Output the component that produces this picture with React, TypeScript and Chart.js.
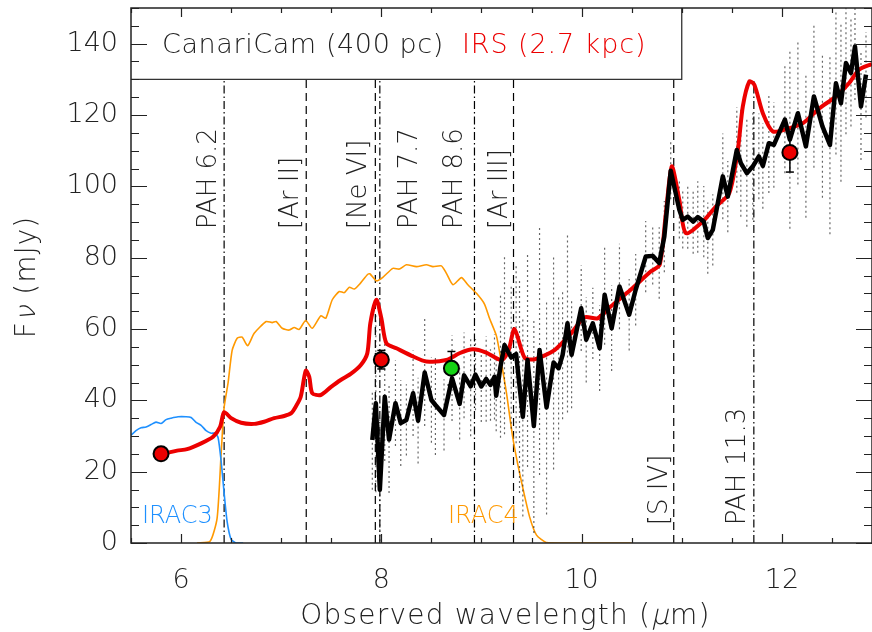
import { useEffect, useRef } from "react";
import { Chart, registerables } from "chart.js";

Chart.register(...registerables);

// ---------- axes ----------
const X_MIN = 5.5;
const X_MAX = 12.9;
const Y_MIN = 0;
const Y_MAX = 150;
const X_TICKS = [6, 8, 10, 12];
const Y_TICKS = [0, 20, 40, 60, 80, 100, 120, 140];
const X_MINOR_STEP = 0.5;
const Y_MINOR_STEP = 5;

// ---------- IRAC3 filter (blue) ----------
const IRAC3_WL = [5.5, 5.55, 5.6, 5.65, 5.7, 5.75, 5.8, 5.85, 5.9, 5.97, 6.05, 6.1, 6.15, 6.2, 6.25, 6.3, 6.34, 6.37, 6.4, 6.43, 6.46, 6.5, 6.55, 6.62];
const IRAC3_T = [30.2, 31.5, 32.3, 32.5, 33.2, 33.9, 33.5, 34.6, 35.0, 35.4, 35.4, 35.2, 33.8, 33.0, 31.5, 30.8, 30.8, 29.5, 23, 14, 6, 1, 0, 0];

// ---------- IRAC4 filter (orange) ----------
const IRAC4_WL = [6.16, 6.29, 6.36, 6.4, 6.43, 6.47, 6.51, 6.56, 6.61, 6.665, 6.73, 6.85, 6.91, 6.95, 7.01, 7.08, 7.13, 7.18, 7.245, 7.31, 7.395, 7.445, 7.51, 7.58, 7.63, 7.68, 7.73, 7.79, 7.86, 7.885, 7.95, 8.015, 8.115, 8.18, 8.25, 8.35, 8.45, 8.515, 8.6, 8.65, 8.715, 8.8, 8.864, 8.95, 9.03, 9.08, 9.15, 9.2, 9.25, 9.31, 9.36, 9.41, 9.48, 9.55, 9.65, 9.8, 10.5];
const IRAC4_T = [0, 0.5, 7, 25, 38, 45, 54, 57.4, 57.7, 55.3, 58.8, 62.1, 61.8, 62.1, 60.2, 59.7, 60.4, 59.9, 62.4, 60.2, 63.7, 63.0, 68.2, 70.5, 70.2, 71.7, 71.2, 72.8, 75.2, 75.5, 73.5, 74.5, 77.0, 76.8, 78.0, 77.5, 78.0, 77.5, 77.7, 75.6, 72.4, 74.4, 72.4, 70.0, 67.0, 63.0, 58.0, 50.4, 42.0, 30.0, 22.4, 15.8, 7.4, 2.2, 0.1, 0, 0];

// ---------- IRS spectrum (red) ----------
const IRS_WL = [5.79, 5.85, 5.96, 6.06, 6.19, 6.32, 6.39, 6.43, 6.5, 6.6, 6.73, 6.83, 6.93, 7.03, 7.1, 7.145, 7.195, 7.245, 7.28, 7.31, 7.395, 7.495, 7.594, 7.694, 7.795, 7.86, 7.89, 7.95, 8.0, 8.05, 8.15, 8.317, 8.45, 8.65, 8.78, 8.914, 9.047, 9.2, 9.27, 9.33, 9.43, 9.53, 9.73, 9.896, 10.03, 10.16, 10.29, 10.49, 10.69, 10.78, 10.84, 10.9, 10.976, 11.04, 11.21, 11.34, 11.475, 11.56, 11.61, 11.675, 11.725, 11.81, 11.91, 12.076, 12.21, 12.376, 12.54, 12.67, 12.77, 12.9];
const IRS_F = [25.0, 25.2, 25.9, 26.3, 27.8, 29.8, 32.6, 36.7, 35.0, 33.7, 33.4, 34.0, 35.0, 35.6, 36.4, 38.2, 41.0, 48.3, 46.6, 42.0, 41.5, 43.7, 45.7, 47.4, 49.9, 53.2, 61.6, 68.2, 63.0, 56.0, 54.6, 52.3, 50.9, 51.3, 53.2, 54.3, 53.4, 51.3, 54.0, 60.0, 52.0, 51.5, 54.1, 58.8, 63.3, 63.0, 66.3, 71.0, 76.1, 78.0, 92.0, 105.6, 96.2, 86.9, 90.1, 94.3, 98.1, 110.2, 122.4, 129.4, 128.5, 120.5, 115.4, 116.3, 117.7, 121.9, 125.2, 128.9, 132.7, 134.3];

// ---------- CanariCam spectrum (black) ----------
const CC_WL = [7.91, 7.945, 7.985, 8.034, 8.077, 8.141, 8.194, 8.25, 8.317, 8.367, 8.433, 8.5, 8.54, 8.626, 8.706, 8.782, 8.826, 8.892, 8.94, 8.998, 9.047, 9.09, 9.13, 9.147, 9.19, 9.23, 9.297, 9.346, 9.38, 9.413, 9.46, 9.523, 9.58, 9.65, 9.72, 9.77, 9.81, 9.859, 9.9, 9.996, 10.046, 10.112, 10.18, 10.23, 10.3, 10.378, 10.475, 10.54, 10.64, 10.71, 10.775, 10.826, 10.89, 10.976, 11.01, 11.06, 11.114, 11.16, 11.22, 11.26, 11.31, 11.41, 11.46, 11.55, 11.59, 11.65, 11.71, 11.77, 11.81, 11.87, 11.92, 12.03, 12.08, 12.16, 12.24, 12.32, 12.405, 12.48, 12.54, 12.59, 12.64, 12.69, 12.73, 12.79, 12.84];
const CC_F = [28.9, 39.2, 14.9, 41.0, 29.0, 39.2, 33.6, 34.5, 42.0, 34.3, 47.8, 40.1, 38.7, 35.9, 46.2, 39.0, 47.0, 43.9, 47.2, 43.9, 46.0, 44.3, 46.6, 41.3, 49.5, 55.5, 52.0, 53.0, 44.0, 35.4, 51.3, 32.8, 54.1, 38.0, 50.6, 49.0, 52.7, 61.6, 52.8, 65.8, 57.0, 61.6, 54.6, 69.6, 60.2, 71.9, 64.0, 71.0, 80.3, 80.5, 78.5, 85.9, 104.4, 93.4, 90.6, 91.5, 90.1, 91.4, 90.1, 85.5, 87.8, 102.8, 97.1, 110.2, 106.5, 103.7, 105.6, 108.4, 105.7, 112.1, 111.6, 118.7, 113.1, 120.5, 111.2, 125.2, 116.8, 111.6, 128.9, 123.3, 134.6, 131.8, 139.2, 122.4, 131.3];
const CC_ERR = [14, 25, 20, 18, 15, 12, 12, 10, 12, 12, 15, 12, 14, 10, 12, 10, 12, 14, 10, 10, 12, 10, 12, 10, 20, 25, 20, 25, 30, 28, 30, 30, 35, 30, 30, 20, 18, 25, 15, 12, 12, 10, 12, 14, 12, 12, 10, 10, 10, 8, 10, 10, 8, 8, 8, 9, 9, 10, 10, 10, 10, 12, 10, 12, 15, 15, 15, 12, 12, 14, 12, 15, 25, 20, 20, 20, 20, 25, 20, 22, 20, 15, 15, 15, 12];

// ---------- photometry ----------
const PHOT_RED_WL = [5.8, 8.0, 12.08];
const PHOT_RED_F = [25.0, 51.4, 109.5];
const PHOT_RED_ERR = [1.5, 2.6, 5.5];
const PHOT_GREEN_WL = [8.7];
const PHOT_GREEN_F = [49.0];
const PHOT_GREEN_ERR = [4.7];

// ---------- spectral features ----------
const LINE_NAMES = ["PAH 6.2", "[Ar II]", "[Ne VI]", "PAH 7.7", "PAH 8.6", "[Ar III]", "[S IV]", "PAH 11.3"];
const LINE_WL = [6.43, 7.25, 7.94, 7.985, 8.93, 9.32, 10.92, 11.72];
const LINE_KIND = ["dashdot", "dash", "dash", "dashdot", "dashdot", "dash", "dash", "dashdot"];
const LINE_LABEL_Y = [88, 88, 88, 88, 88, 88, 5, 5];
const LINE_TOP = 130;

// ---------- legend box / filter names ----------
const LEGEND_BOX_X = [5.5, 11.0, 11.0];
const LEGEND_BOX_Y = [130, 130, 150];
const LEGEND_BLACK = "CanariCam (400 pc)";
const LEGEND_RED = "IRS (2.7 kpc)";
const FILTER_NAMES = ["IRAC3", "IRAC4"];
const FILTER_LABEL_WL = [5.61, 8.665];
const FILTER_LABEL_F = [7.3, 7.3];

// ---------- styles ----------
const RED = "rgb(236,0,0)";
const BLACK = "#000";
const BLUE = "rgb(30,144,255)";
const ORANGE = "rgb(255,153,0)";
const GREEN = "rgb(20,210,20)";
const FONT = '"DejaVu Sans", sans-serif';
const W = "200";
const TEXT = "#222";
const LABEL_DX = [-17, -17, -18, 28, -21, -16, -16, -18];

const zip = (xs: number[], ys: number[]) => xs.map((x, i) => ({ x, y: ys[i] }));

const errSegments = (xs: number[], ys: number[], es: number[]) => {
  const out: any[] = [];
  xs.forEach((x, i) => {
    out.push({ x, y: ys[i] - es[i] });
    out.push({ x, y: ys[i] + es[i] });
    out.push({ x, y: null });
  });
  return out;
};

const capPoints = (xs: number[], ys: number[], es: number[]) => {
  const out: any[] = [];
  xs.forEach((x, i) => {
    out.push({ x, y: ys[i] - es[i] });
    out.push({ x, y: ys[i] + es[i] });
  });
  return out;
};

// runs of text; italic runs are drawn with a skew of the thin face
const drawRuns = (ctx: any, runs: [string, boolean][], size: number, cx: number, y: number, spacing: string) => {
  ctx.letterSpacing = spacing;
  ctx.font = `${W} ${size}px ${FONT}`;
  const widths = runs.map(([t]) => ctx.measureText(t).width);
  const total = widths.reduce((a, b) => a + b, 0);
  let x = cx - total / 2;
  runs.forEach(([t, it], i) => {
    if (it) {
      ctx.save();
      ctx.translate(x, y);
      ctx.transform(1, 0, -0.22, 1, 0, 0);
      ctx.fillText(t, 0, 0);
      ctx.restore();
    } else {
      ctx.fillText(t, x, y);
    }
    x += widths[i];
  });
  ctx.letterSpacing = "0px";
};

const decorPlugin = {
  id: "decor",
  afterDatasetsDraw(chart: any) {
    const { ctx, chartArea: a, scales } = chart;
    const xs = scales.x;
    const ys = scales.y;
    ctx.save();
    // frame
    ctx.strokeStyle = "#222";
    ctx.lineWidth = 1.5;
    ctx.setLineDash([]);
    ctx.strokeRect(a.left, a.top, a.right - a.left, a.bottom - a.top);
    // x ticks (bottom + top)
    ctx.lineWidth = 1.2;
    for (let v = Math.ceil(X_MIN / X_MINOR_STEP) * X_MINOR_STEP; v <= X_MAX + 1e-9; v += X_MINOR_STEP) {
      const major = X_TICKS.some((t) => Math.abs(t - v) < 1e-6);
      const len = major ? 9 : 5;
      const p = Math.round(xs.getPixelForValue(v)) + 0.5;
      ctx.beginPath();
      ctx.moveTo(p, a.bottom);
      ctx.lineTo(p, a.bottom - len);
      ctx.moveTo(p, a.top);
      ctx.lineTo(p, a.top + len);
      ctx.stroke();
    }
    // y ticks (left + right)
    for (let v = Y_MIN; v <= Y_MAX + 1e-9; v += Y_MINOR_STEP) {
      const major = Y_TICKS.some((t) => Math.abs(t - v) < 1e-6);
      const len = major ? 16 : 8;
      const p = Math.round(ys.getPixelForValue(v)) + 0.5;
      ctx.beginPath();
      ctx.moveTo(a.left, p);
      ctx.lineTo(a.left + len, p);
      ctx.moveTo(a.right, p);
      ctx.lineTo(a.right - len, p);
      ctx.stroke();
    }

    // feature labels (rotated)
    ctx.font = `${W} 26px ${FONT}`;
    ctx.fillStyle = TEXT;
    ctx.textAlign = "left";
    ctx.textBaseline = "alphabetic";
    LINE_NAMES.forEach((name, i) => {
      const px = xs.getPixelForValue(LINE_WL[i]) + LABEL_DX[i] + 9;
      const py = ys.getPixelForValue(LINE_LABEL_Y[i]);
      ctx.save();
      ctx.translate(px, py);
      ctx.rotate(-Math.PI / 2);
      ctx.fillText(name, 0, 0);
      ctx.restore();
    });

    // filter names
    ctx.font = `${W} 24px ${FONT}`;
    ctx.textBaseline = "middle";
    FILTER_NAMES.forEach((name, i) => {
      ctx.fillStyle = i === 0 ? BLUE : ORANGE;
      ctx.fillText(name, xs.getPixelForValue(FILTER_LABEL_WL[i]), ys.getPixelForValue(FILTER_LABEL_F[i]));
    });

    // legend text
    ctx.font = `${W} 27px ${FONT}`;
    ctx.textBaseline = "alphabetic";
    ctx.fillStyle = TEXT;
    ctx.letterSpacing = "0.6px";
    ctx.fillText(LEGEND_BLACK, a.left + 31, a.top + 45);
    ctx.fillStyle = RED;
    ctx.letterSpacing = "0.9px";
    ctx.fillText(LEGEND_RED, a.left + 331, a.top + 45);
    ctx.letterSpacing = "0px";

    // x title
    ctx.fillStyle = TEXT;
    drawRuns(ctx, [["Observed wavelength (", false], ["\u03bc", true], ["m)", false]], 28, (a.left + a.right) / 2 + 4, 624, "1.2px");

    // y title
    ctx.save();
    ctx.translate(35, 277);
    ctx.rotate(-Math.PI / 2);
    drawRuns(ctx, [["F", false], ["\u03bd", true], [" (mJy)", false]], 28, 0, 0, "1px");
    ctx.restore();

    ctx.restore();
  },
};

export default function App() {
  const ref = useRef<HTMLCanvasElement | null>(null);

  useEffect(() => {
    if (!ref.current) return;

    const featureSets = LINE_WL.map((wl, i) => ({
      type: "line" as const,
      data: [
        { x: wl, y: Y_MIN },
        { x: wl, y: LINE_TOP },
      ],
      borderColor: BLACK,
      borderWidth: 1.2,
      borderDash: LINE_KIND[i] === "dash" ? [8, 5] : [8, 3, 1.5, 3],
      pointRadius: 0,
      order: 20,
    }));

    const zeroPad = (s: any) => {
      s.paddingTop = 0;
      s.paddingBottom = 0;
      s.paddingLeft = 0;
      s.paddingRight = 0;
    };

    const chart = new Chart(ref.current, {
      type: "line",
      data: {
        datasets: [
          {
            type: "scatter",
            data: zip(PHOT_RED_WL, PHOT_RED_F),
            backgroundColor: RED,
            borderColor: BLACK,
            borderWidth: 2,
            pointRadius: 7.5,
            order: 0,
          },
          {
            type: "scatter",
            data: zip(PHOT_GREEN_WL, PHOT_GREEN_F),
            backgroundColor: GREEN,
            borderColor: BLACK,
            borderWidth: 2,
            pointRadius: 7.5,
            order: 0,
          },
          {
            type: "line",
            data: errSegments(
              [...PHOT_RED_WL, ...PHOT_GREEN_WL],
              [...PHOT_RED_F, ...PHOT_GREEN_F],
              [...PHOT_RED_ERR, ...PHOT_GREEN_ERR]
            ),
            borderColor: BLACK,
            borderWidth: 1.5,
            pointRadius: 0,
            spanGaps: false,
            order: 1,
          },
          {
            type: "scatter",
            data: capPoints(
              [...PHOT_RED_WL, ...PHOT_GREEN_WL],
              [...PHOT_RED_F, ...PHOT_GREEN_F],
              [...PHOT_RED_ERR, ...PHOT_GREEN_ERR]
            ),
            pointStyle: "line",
            pointRadius: 4,
            borderColor: BLACK,
            borderWidth: 1.5,
            order: 1,
          },
          {
            type: "line",
            data: zip(CC_WL, CC_F),
            borderColor: BLACK,
            borderWidth: 4.5,
            borderJoinStyle: "round",
            pointRadius: 0,
            tension: 0,
            order: 2,
          },
          {
            type: "line",
            data: errSegments(CC_WL, CC_F, CC_ERR),
            borderColor: "rgba(0,0,0,0.6)",
            borderWidth: 1.2,
            borderDash: [2, 3],
            pointRadius: 0,
            spanGaps: false,
            order: 4,
          },
          {
            type: "line",
            data: zip(IRS_WL, IRS_F),
            borderColor: RED,
            borderWidth: 4,
            borderJoinStyle: "round",
            pointRadius: 0,
            tension: 0.25,
            order: 3,
          },
          {
            type: "line",
            data: zip(IRAC3_WL, IRAC3_T),
            borderColor: BLUE,
            borderWidth: 1.6,
            pointRadius: 0,
            tension: 0.2,
            order: 10,
          },
          {
            type: "line",
            data: zip(IRAC4_WL, IRAC4_T),
            borderColor: ORANGE,
            borderWidth: 1.6,
            pointRadius: 0,
            tension: 0.2,
            order: 10,
          },
          {
            type: "line",
            data: zip(LEGEND_BOX_X, LEGEND_BOX_Y),
            borderColor: "#333",
            borderWidth: 1.3,
            pointRadius: 0,
            order: 15,
          },
          ...featureSets,
        ] as any,
      },
      options: {
        animation: false,
        responsive: false,
        maintainAspectRatio: false,
        layout: { autoPadding: false, padding: { top: 8, right: 0, left: 0, bottom: 0 } },
        plugins: { legend: { display: false }, tooltip: { enabled: false } },
        scales: {
          x: {
            type: "linear",
            min: X_MIN,
            max: X_MAX,
            grid: { display: false, drawTicks: false },
            border: { display: false },
            afterBuildTicks: (s: any) => {
              s.ticks = X_TICKS.map((v) => ({ value: v }));
            },
            afterFit: (s: any) => {
              s.height = 89;
              zeroPad(s);
            },
            ticks: {
              font: { family: FONT, size: 27, weight: W },
              color: TEXT,
              padding: 22,
              maxRotation: 0,
              autoSkip: false,
            },
          },
          y: {
            type: "linear",
            min: Y_MIN,
            max: Y_MAX,
            grid: { display: false, drawTicks: false },
            border: { display: false },
            afterBuildTicks: (s: any) => {
              s.ticks = Y_TICKS.map((v) => ({ value: v }));
            },
            afterFit: (s: any) => {
              s.width = 131;
              zeroPad(s);
            },
            ticks: {
              font: { family: FONT, size: 27, weight: W },
              color: TEXT,
              padding: 13,
              autoSkip: false,
            },
          },
        },
      } as any,
      plugins: [decorPlugin],
    });

    return () => chart.destroy();
  }, []);

  return (
    <div style={{ position: "absolute", left: 0, top: 0, width: 872, height: 632, background: "#fff" }}>
      <canvas ref={ref} width={872} height={632} />
    </div>
  );
}
